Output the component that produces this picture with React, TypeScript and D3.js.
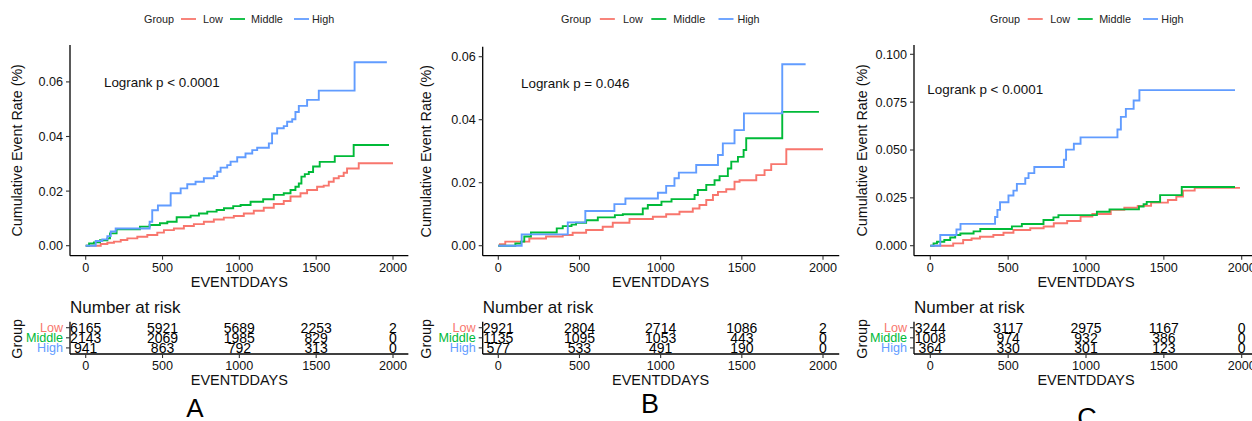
import React from "react";
import * as d3 from "d3";

type Pt = [number, number];

const GROUPS = ["Low", "Middle", "High"];
const GROUP_COLORS = ["#F8766D", "#00BA38", "#619CFF"];
const DAY_TICKS = [0, 500, 1000, 1500, 2000];

// ---- Panel A curves [day, cumulative event rate]
const lowA: Pt[] = [[0,0],[98,0.0006],[141,0.0011],[184,0.0015],[228,0.0021],[271,0.0027],[336,0.0033],[401,0.0039],[466,0.0048],[509,0.0057],[574,0.0063],[639,0.0072],[704,0.0079],[769,0.0088],[834,0.0096],[899,0.0103],[964,0.0109],[1029,0.0118],[1094,0.0128],[1159,0.0139],[1224,0.0153],[1289,0.0164],[1333,0.018],[1398,0.0192],[1441,0.0204],[1506,0.0216],[1549,0.022],[1582,0.0234],[1614,0.0247],[1647,0.0255],[1679,0.0267],[1701,0.0283],[1777,0.0302],[2000,0.0302]];
const middleA: Pt[] = [[0,0],[22,0.0008],[54,0.0012],[93,0.002],[141,0.0027],[158,0.0045],[201,0.006],[353,0.007],[416,0.0076],[483,0.0082],[531,0.0088],[592,0.0104],[683,0.011],[737,0.0118],[791,0.0125],[852,0.0131],[900,0.0137],[960,0.0145],[1008,0.0149],[1073,0.0161],[1155,0.017],[1224,0.0186],[1289,0.0192],[1333,0.0204],[1365,0.0216],[1387,0.0228],[1404,0.0253],[1426,0.0262],[1452,0.027],[1480,0.029],[1523,0.0307],[1621,0.0328],[1744,0.0369],[1974,0.0369]];
const highA: Pt[] = [[0,0],[65,0.0017],[108,0.0023],[141,0.0035],[163,0.0052],[195,0.0063],[416,0.0088],[433,0.013],[470,0.0147],[553,0.0192],[618,0.021],[661,0.0225],[715,0.0234],[769,0.0247],[834,0.0255],[856,0.0271],[878,0.0286],[921,0.0295],[943,0.0308],[986,0.0324],[1040,0.0338],[1084,0.035],[1116,0.0359],[1192,0.0375],[1213,0.0411],[1246,0.043],[1289,0.0438],[1311,0.0454],[1344,0.0463],[1365,0.049],[1387,0.0512],[1441,0.0534],[1517,0.0568],[1750,0.0672],[1960,0.0672]];

// ---- Panel B curves
const lowB: Pt[] = [[0,0],[10,0.0005],[43,0.0013],[191,0.0023],[294,0.0029],[397,0.0034],[458,0.0041],[541,0.005],[643,0.006],[705,0.0073],[808,0.0085],[952,0.0092],[1034,0.01],[1116,0.0108],[1198,0.0118],[1239,0.0129],[1281,0.0145],[1322,0.0161],[1353,0.0171],[1404,0.0179],[1455,0.0203],[1486,0.0208],[1589,0.0224],[1640,0.024],[1681,0.0259],[1774,0.0306],[2000,0.0306]];
const middleB: Pt[] = [[0,0],[105,0.0007],[140,0.0013],[160,0.0029],[201,0.0042],[360,0.0055],[397,0.0062],[451,0.0067],[479,0.0073],[541,0.0081],[613,0.009],[718,0.0097],[767,0.01],[890,0.0118],[921,0.0129],[1005,0.014],[1067,0.0148],[1209,0.0161],[1229,0.0177],[1281,0.0193],[1332,0.0208],[1363,0.0221],[1414,0.0245],[1435,0.0267],[1476,0.0282],[1511,0.0304],[1527,0.0341],[1749,0.0425],[1975,0.0425]];
const highB: Pt[] = [[0,0],[144,0.0036],[428,0.0074],[536,0.011],[715,0.0132],[783,0.015],[983,0.0168],[1034,0.019],[1085,0.0214],[1112,0.0232],[1219,0.0256],[1353,0.0288],[1383,0.0325],[1455,0.0367],[1513,0.042],[1749,0.0576],[1893,0.0576]];

// ---- Panel C curves
const lowC: Pt[] = [[0,0],[147,0.0012],[211,0.003],[265,0.0038],[319,0.0047],[405,0.0056],[470,0.0068],[534,0.0082],[642,0.0091],[728,0.01],[793,0.0117],[879,0.0129],[965,0.0152],[1041,0.0166],[1159,0.0187],[1246,0.0198],[1332,0.0208],[1418,0.0225],[1526,0.0239],[1580,0.0257],[1623,0.0288],[1698,0.0302],[1989,0.0302]];
const middleC: Pt[] = [[0,0],[21,0.0012],[43,0.0021],[90,0.003],[128,0.0043],[160,0.0056],[193,0.0064],[278,0.0075],[321,0.0087],[524,0.0101],[588,0.0113],[727,0.0134],[791,0.0148],[823,0.016],[1070,0.0177],[1151,0.019],[1340,0.0205],[1370,0.0217],[1390,0.0229],[1476,0.0264],[1615,0.0307],[1957,0.0307]];
const highC: Pt[] = [[0,0],[64,0.0056],[168,0.0085],[194,0.0114],[416,0.015],[431,0.0187],[448,0.0227],[502,0.0262],[534,0.0288],[556,0.0323],[610,0.0353],[631,0.0379],[668,0.0411],[858,0.0449],[872,0.0502],[922,0.0533],[965,0.0566],[1202,0.0607],[1224,0.0673],[1256,0.0715],[1306,0.0759],[1343,0.0813],[1957,0.0813]];

// ---- Number at risk
const riskLowA = [6165, 5921, 5689, 2253, 2];
const riskMiddleA = [2143, 2069, 1985, 829, 0];
const riskHighA = [941, 863, 792, 313, 0];
const riskLowB = [2921, 2804, 2714, 1086, 2];
const riskMiddleB = [1135, 1095, 1053, 443, 0];
const riskHighB = [577, 533, 491, 190, 0];
const riskLowC = [3244, 3117, 2975, 1167, 0];
const riskMiddleC = [1008, 974, 932, 386, 0];
const riskHighC = [364, 330, 301, 123, 0];

const yTicksA = [0, 0.02, 0.04, 0.06];
const yTicksB = [0, 0.02, 0.04, 0.06];
const yTicksC = [0, 0.025, 0.05, 0.075, 0.1];

const FONT = "Arial, 'Liberation Sans', Helvetica, sans-serif";

interface PanelCfg {
  curves: Pt[][];
  risk: number[][];
  yTicks: number[];
  fmt: string;
  pval: string;
  pvalDay: number;
  pvalVal: number;
  letter: string;
  axisX: number; x0: number; x2000: number;
  y0: number; yTopTick: number; yTopVal: number; axisTop: number;
  titleX: number; legendX: number; legendScale: number;
  letterX: number; letterY: number; letterSize: number;
}

const AXIS_Y = 255.7;
const RISK_AXIS_Y = 354;
const RISK_TOP = 321.7;

function Panel({ c }: { c: PanelCfg }) {
  const x = d3.scaleLinear().domain([0, 2000]).range([c.x0, c.x2000]);
  const y = d3.scaleLinear().domain([0, c.yTopVal]).range([c.y0, c.yTopTick]);
  const line = d3.line<Pt>().x(d => x(d[0])).y(d => y(d[1])).curve(d3.curveStepAfter);
  const xEnd = x(2100);
  const rowY = d3.scalePoint<string>().domain(GROUPS).range([327.7, 347.9]);
  const fmt = d3.format(c.fmt);
  const legOff = [37, 86, 150];
  const legTextX = [c.legendX + 59 * c.legendScale, c.legendX + 107 * c.legendScale, c.legendX + 168 * c.legendScale];
  return (
    <g fontFamily={FONT}>
      <text x={c.legendX} y={19} dy="0.35em" fontSize={10.8} fill="#222">Group</text>
      {GROUPS.map((g, i) => (
        <g key={g}>
          <line x1={c.legendX + legOff[i] * c.legendScale} x2={c.legendX + legOff[i] * c.legendScale + 15}
            y1={19} y2={19} stroke={GROUP_COLORS[i]} strokeWidth={1.8} />
          <text x={legTextX[i]} y={19} dy="0.35em" fontSize={10.8} fill="#222">{g}</text>
        </g>
      ))}

      <line x1={c.axisX} x2={c.axisX} y1={c.axisTop} y2={AXIS_Y} stroke="#000" strokeWidth={1.3} />
      <line x1={c.axisX} x2={xEnd} y1={AXIS_Y} y2={AXIS_Y} stroke="#000" strokeWidth={1.3} />
      {c.yTicks.map(t => (
        <g key={t}>
          <line x1={c.axisX - 4} x2={c.axisX} y1={y(t)} y2={y(t)} stroke="#333" strokeWidth={1.1} />
          <text x={c.axisX - 7} y={y(t)} dy="0.35em" textAnchor="end" fontSize={12.6} fill="#111">{fmt(t)}</text>
        </g>
      ))}
      {DAY_TICKS.map(t => (
        <g key={t}>
          <line x1={x(t)} x2={x(t)} y1={AXIS_Y} y2={AXIS_Y + 4} stroke="#333" strokeWidth={1.1} />
          <text x={x(t)} y={271.5} textAnchor="middle" fontSize={12.6} fill="#111">{t}</text>
        </g>
      ))}
      <text x={(c.x0 + c.x2000) / 2} y={286.5} textAnchor="middle" fontSize={14.5} fill="#111">EVENTDDAYS</text>
      <text transform={`translate(${c.titleX},${(c.axisTop + AXIS_Y) / 2}) rotate(-90)`} dy="0.35em"
        textAnchor="middle" fontSize={14.3} fill="#111">Cumulative Event Rate (%)</text>

      {c.curves.map((d, i) => (
        <path key={i} d={line(d) || ""} fill="none" stroke={GROUP_COLORS[i]} strokeWidth={1.9} />
      ))}

      <text x={x(c.pvalDay)} y={y(c.pvalVal)} dy="0.35em" fontSize={13.4} fill="#111">{c.pval}</text>

      <text x={c.axisX} y={312.5} fontSize={17} fill="#111">Number at risk</text>
      <line x1={c.axisX} x2={c.axisX} y1={RISK_TOP} y2={RISK_AXIS_Y} stroke="#000" strokeWidth={1.3} />
      <line x1={c.axisX} x2={xEnd} y1={RISK_AXIS_Y} y2={RISK_AXIS_Y} stroke="#000" strokeWidth={1.3} />
      {GROUPS.map((g, i) => (
        <g key={g}>
          <line x1={c.axisX - 4} x2={c.axisX} y1={rowY(g)!} y2={rowY(g)!} stroke="#333" strokeWidth={1.1} />
          <text x={c.axisX - 7} y={rowY(g)!} dy="0.35em" textAnchor="end" fontSize={12.6} fill={GROUP_COLORS[i]}>{g}</text>
          {c.risk[i].map((v, j) => (
            <text key={j} x={x(DAY_TICKS[j])} y={rowY(g)!} dy="0.36em" textAnchor="middle" fontSize={14} fill="#000">{v}</text>
          ))}
        </g>
      ))}
      {DAY_TICKS.map(t => (
        <g key={t}>
          <line x1={x(t)} x2={x(t)} y1={RISK_AXIS_Y} y2={RISK_AXIS_Y + 4} stroke="#333" strokeWidth={1.1} />
          <text x={x(t)} y={369.5} textAnchor="middle" fontSize={12.6} fill="#111">{t}</text>
        </g>
      ))}
      <text x={(c.x0 + c.x2000) / 2} y={384.5} textAnchor="middle" fontSize={14.5} fill="#111">EVENTDDAYS</text>
      <text transform={`translate(${c.titleX},${(RISK_TOP + RISK_AXIS_Y) / 2 + 1}) rotate(-90)`} dy="0.35em"
        textAnchor="middle" fontSize={14.3} fill="#111">Group</text>

      <text x={c.letterX} y={c.letterY} textAnchor="middle" fontSize={c.letterSize} fill="#000">{c.letter}</text>
    </g>
  );
}

const panels: PanelCfg[] = [
  {
    curves: [lowA, middleA, highA], risk: [riskLowA, riskMiddleA, riskHighA],
    yTicks: yTicksA, fmt: ".2f", pval: "Logrank p < 0.0001", pvalDay: 119, pvalVal: 0.06, letter: "A",
    axisX: 70, x0: 85.7, x2000: 393, y0: 245.7, yTopTick: 81.9, yTopVal: 0.06, axisTop: 45,
    titleX: 17, legendX: 144, legendScale: 1, letterX: 195, letterY: 417, letterSize: 26,
  },
  {
    curves: [lowB, middleB, highB], risk: [riskLowB, riskMiddleB, riskHighB],
    yTicks: yTicksB, fmt: ".2f", pval: "Logrank p = 0.046", pvalDay: 140, pvalVal: 0.0517, letter: "B",
    axisX: 482.7, x0: 498.3, x2000: 823, y0: 245.7, yTopTick: 56.7, yTopVal: 0.06, axisTop: 46.7,
    titleX: 426, legendX: 561, legendScale: 1.05, letterX: 650, letterY: 413, letterSize: 27,
  },
  {
    curves: [lowC, middleC, highC], risk: [riskLowC, riskMiddleC, riskHighC],
    yTicks: yTicksC, fmt: ".3f", pval: "Logrank p < 0.0001", pvalDay: -19, pvalVal: 0.0819, letter: "C",
    axisX: 914, x0: 930.3, x2000: 1241.7, y0: 245.7, yTopTick: 54.3, yTopVal: 0.1, axisTop: 45,
    titleX: 862, legendX: 990, legendScale: 1.02, letterX: 1087, letterY: 427, letterSize: 27,
  },
];

export default function App() {
  return (
    <svg width={1252} height={421} style={{ position: "absolute", left: 0, top: 0, background: "#fff" }}>
      <rect width={1252} height={421} fill="#fff" />
      {panels.map((p, i) => <Panel key={i} c={p} />)}
    </svg>
  );
}
